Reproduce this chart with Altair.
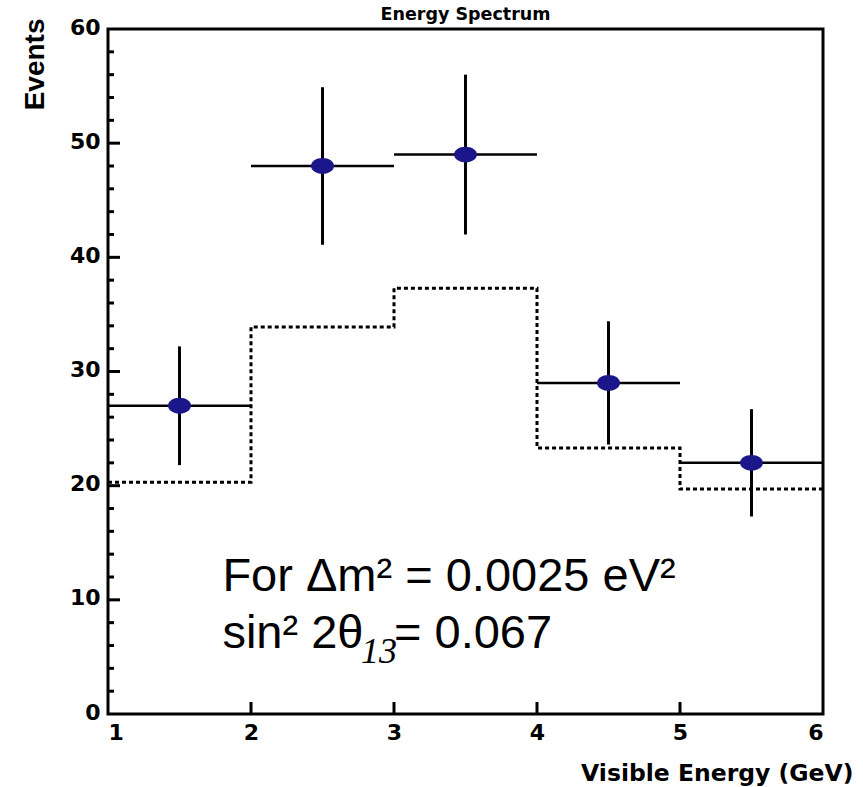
import altair as alt
import pandas as pd

# Energy bins (GeV)
bin_lo = [1, 2, 3, 4, 5]
bin_hi = [2, 3, 4, 5, 6]
bin_mid = [1.5, 2.5, 3.5, 4.5, 5.5]

# Observed events with statistical errors
observed = [27, 48, 49, 29, 22]
obs_err = [5.2, 6.9, 7.0, 5.4, 4.7]

# Expected spectrum without oscillation (dashed histogram)
edges = [1, 2, 3, 4, 5, 6]
expected = [20.3, 33.9, 37.3, 23.3, 19.7, 19.7]

# Axis ticks
x_labels = [1, 2, 3, 4, 5, 6]
x_ticks = [2, 3, 4, 5]
y_labels = [0, 10, 20, 30, 40, 50, 60]
y_major = [10, 20, 30, 40, 50]
y_minor = [v for v in range(2, 60, 2) if v % 10 != 0]

W, H = 715, 685
BOLD = "DejaVu Sans"

xs = alt.Scale(domain=[1, 6], nice=False, zero=False)
ys = alt.Scale(domain=[0, 60], nice=False)

pts = pd.DataFrame({
    "lo": bin_lo, "hi": bin_hi, "mid": bin_mid,
    "n": observed,
    "low": [n - e for n, e in zip(observed, obs_err)],
    "high": [n + e for n, e in zip(observed, obs_err)],
})
hist = pd.DataFrame({"edge": edges, "exp": expected})

x_axis = alt.Axis(
    values=x_labels, format="d", ticks=False, domain=False, grid=False,
    labelFont=BOLD, labelFontWeight="bold", labelFontSize=22,
    labelColor="black", labelPadding=8, labelBaseline="top",
    title="Visible Energy (GeV)", titleFont=BOLD, titleFontWeight="bold",
    titleFontSize=23.5, titleColor="black", titleAlign="right",
    titleBaseline="alphabetic", titleX=745, titleY=66, titleAngle=0,
)
y_axis = alt.Axis(
    values=y_labels, format="d", ticks=False, domain=False, grid=False,
    labelFont=BOLD, labelFontWeight="bold", labelFontSize=22,
    labelColor="black", labelPadding=8, labelOffset=-2,
    title="Events", titleFont="Liberation Sans", titleFontWeight="bold",
    titleFontSize=28, titleColor="black", titleAngle=270, titleAlign="right",
    titleBaseline="alphabetic", titleX=-65, titleY=-11,
)

expected_line = alt.Chart(hist).mark_line(
    interpolate="step-after", color="black", strokeWidth=3, strokeDash=[4, 3]
).encode(
    x=alt.X("edge:Q", scale=xs, axis=x_axis),
    y=alt.Y("exp:Q", scale=ys, axis=y_axis),
)

hbars = alt.Chart(pts).mark_rule(color="black", strokeWidth=2.5).encode(
    x=alt.X("lo:Q", scale=xs), x2="hi:Q", y=alt.Y("n:Q", scale=ys)
)
vbars = alt.Chart(pts).mark_rule(color="black", strokeWidth=3).encode(
    x=alt.X("mid:Q", scale=xs), y=alt.Y("low:Q", scale=ys), y2="high:Q"
)
dots = alt.Chart(pts).mark_point(
    shape="M -1 0 A 1 0.69 0 1 0 1 0 A 1 0.69 0 1 0 -1 0 Z",
    size=529, filled=True, opacity=1, color="#1b1689",
).encode(x=alt.X("mid:Q", scale=xs), y=alt.Y("n:Q", scale=ys))

# Inward-pointing ticks
ymaj = alt.Chart(pd.DataFrame({"v": y_major})).mark_rule(color="black", strokeWidth=3).encode(
    y=alt.Y("v:Q", scale=ys), x=alt.value(0), x2=alt.value(12)
)
ymin = alt.Chart(pd.DataFrame({"v": y_minor})).mark_rule(color="black", strokeWidth=3).encode(
    y=alt.Y("v:Q", scale=ys), x=alt.value(0), x2=alt.value(6)
)
xmaj = alt.Chart(pd.DataFrame({"v": x_ticks})).mark_rule(color="black", strokeWidth=3).encode(
    x=alt.X("v:Q", scale=xs), y=alt.value(H), y2=alt.value(H - 12)
)

# Plot heading, sitting just on the top frame
heading = alt.Chart(pd.DataFrame({"t": ["Energy Spectrum"]})).mark_text(
    font=BOLD, fontWeight="bold", fontSize=17.5, color="black",
    align="center", baseline="alphabetic", dy=-9,
).encode(x=alt.value(W / 2), y=alt.value(0), text="t:N")

# Oscillation parameters annotation
ann_main = pd.DataFrame({
    "x": [1.80, 1.80, 3.0],
    "y": [10.77, 5.78, 5.78],
    "t": ["For \u0394m\u00b2 = 0.0025 eV\u00b2", "sin\u00b2 2\u03b8", "= 0.067"],
})
ann_sub = pd.DataFrame({"x": [2.77], "y": [4.5], "t": ["13"]})

text_main = alt.Chart(ann_main).mark_text(
    align="left", baseline="alphabetic", font="Liberation Sans",
    fontSize=47, color="black",
).encode(x=alt.X("x:Q", scale=xs), y=alt.Y("y:Q", scale=ys), text="t:N")
text_sub = alt.Chart(ann_sub).mark_text(
    align="left", baseline="alphabetic", font="Liberation Serif",
    fontSize=36, fontStyle="italic", color="black",
).encode(x=alt.X("x:Q", scale=xs), y=alt.Y("y:Q", scale=ys), text="t:N")

chart = alt.layer(
    expected_line, hbars, vbars, dots, ymaj, ymin, xmaj, heading,
    text_main, text_sub
).properties(
    width=W, height=H,
    autosize=alt.AutoSizeParams(type="none"),
    padding={"left": 108, "top": 29, "right": 40, "bottom": 73},
).configure_view(stroke="black", strokeWidth=3)

chart.save("out.html", embed_options={"renderer": "svg", "actions": False})
